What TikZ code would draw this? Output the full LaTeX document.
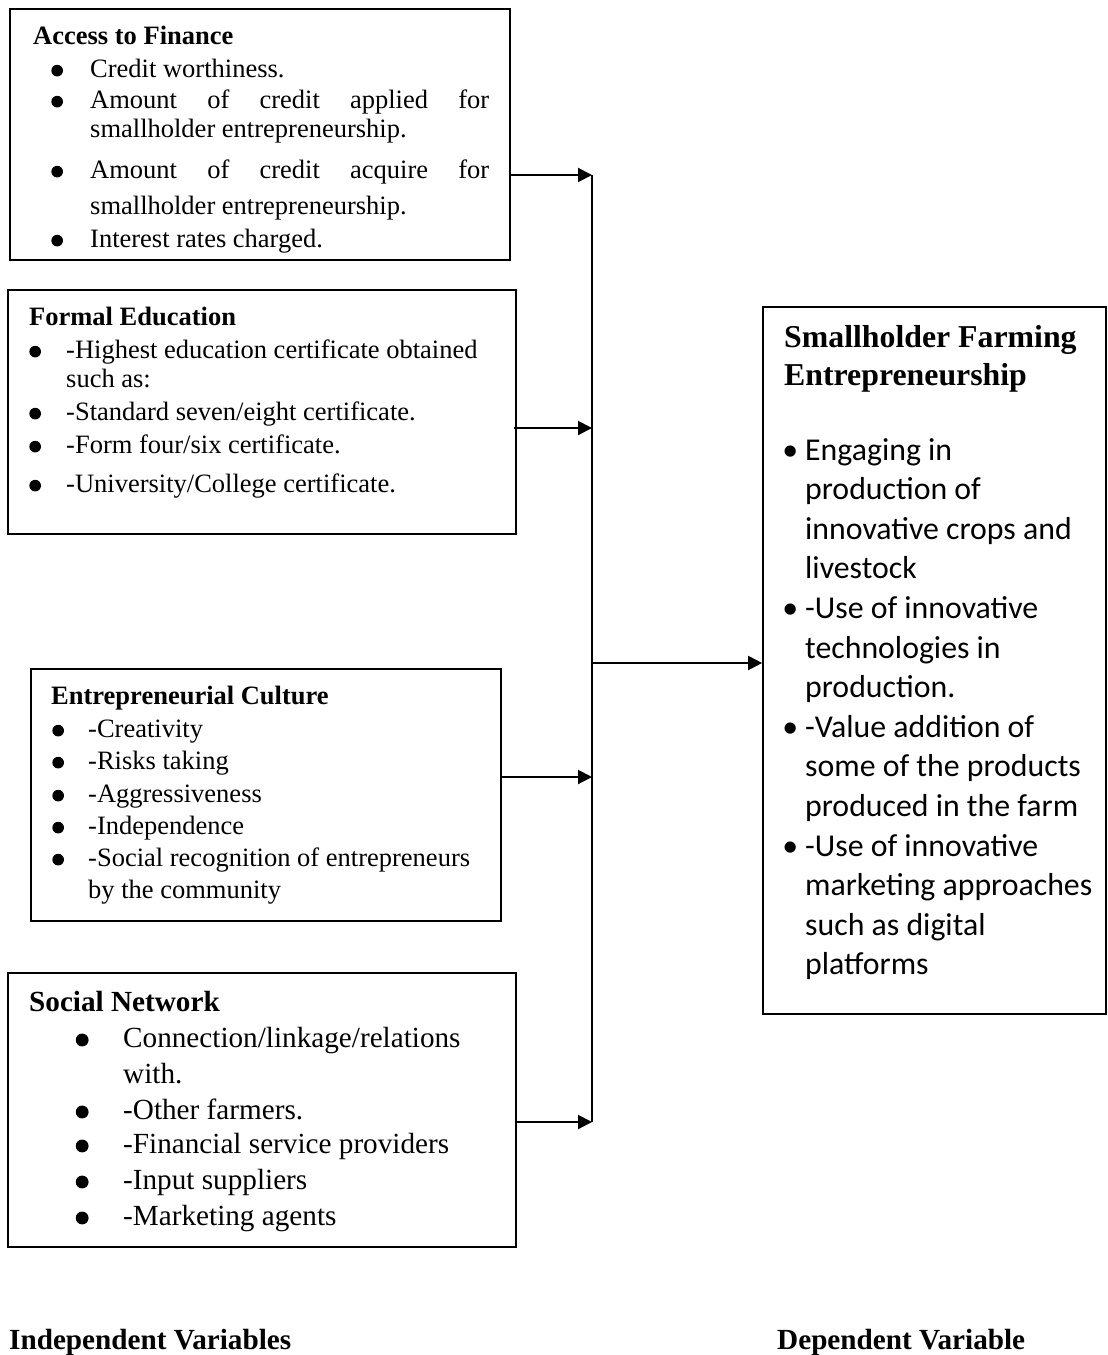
\documentclass[tikz,border=0pt]{standalone}
\usepackage{fontspec}
\setmainfont{Liberation Serif}
\newfontfamily\calibfont{Carlito}
\usepackage{tikz}
\usetikzlibrary{arrows.meta,positioning}
\newcommand{\bul}[1]{\llap{\tikz[baseline=-0.24em]\fill (0,0) circle (0.22em);\hspace{#1}}}
\newcommand{\cbul}[1]{\llap{\textbullet\hspace{#1}}}

\begin{document}
\begin{tikzpicture}[x=1pt, y=-1pt]
		\tikzstyle{Box}	= [draw, line width=1.7pt, inner sep=0pt]
		\tikzstyle{Txt}	= [anchor=base west, inner sep=0pt, font=\fontsize{26.5}{32}\selectfont]
		\tikzstyle{Head}	= [Txt, font=\fontsize{26.5}{32}\selectfont\bfseries]
		\tikzstyle{TxtL}	= [Txt, font=\fontsize{29.2}{35}\selectfont]
		\tikzstyle{HeadL}	= [Txt, font=\fontsize{29.2}{35}\selectfont\bfseries]
		\tikzstyle{Tit}	= [Txt, font=\fontsize{31.8}{38}\selectfont\bfseries]
		\tikzstyle{Cal}	= [Txt, font=\fontsize{31.8}{39}\calibfont]
		\tikzstyle{Line}	= [line width=1.4pt]
		\tikzstyle{Arr}	= [line width=2pt, -{Triangle[length=14pt, width=14pt]}]

		\useasboundingbox (0, 0) rectangle (1108, 1355);

		\node (fin) at (260, 134.5) [Box, minimum width=500, minimum height=251]{};
		\node (edu) at (262, 412) [Box, minimum width=508, minimum height=244]{};
		\node (cul) at (266, 795) [Box, minimum width=470, minimum height=252]{};
		\node (net) at (262, 1110) [Box, minimum width=508, minimum height=274]{};
		\node (she) at (934.5, 660.5) [Box, minimum width=343, minimum height=707]{};

		\node (fin0) at (33, 44) [Head]{Access to Finance};
		\node (fin1) at (90, 77) [Txt]{\bul{27.2pt}Credit worthiness.};
		\node (fin2) at (90, 108) [Txt]{\bul{27.2pt}\makebox[399pt][s]{Amount of credit applied for}};
		\node (fin3) at (90, 137) [Txt]{smallholder entrepreneurship.};
		\node (fin4) at (90, 178) [Txt]{\bul{27.2pt}\makebox[399pt][s]{Amount of credit acquire for}};
		\node (fin5) at (90, 214) [Txt]{smallholder entrepreneurship.};
		\node (fin6) at (90, 247) [Txt]{\bul{27.2pt}Interest rates charged.};

		\node (edu0) at (29, 325) [Head]{Formal Education};
		\node (edu1) at (66, 358) [Txt]{\bul{25.2pt}-Highest education certificate obtained};
		\node (edu2) at (66, 387) [Txt]{such as:};
		\node (edu3) at (66, 420) [Txt]{\bul{25.2pt}-Standard seven/eight certificate.};
		\node (edu4) at (66, 453) [Txt]{\bul{25.2pt}-Form four/six certificate.};
		\node (edu5) at (66, 492) [Txt]{\bul{25.2pt}-University/College certificate.};

		\node (cul0) at (51, 704) [Head]{Entrepreneurial Culture};
		\node (cul1) at (88, 737) [Txt]{\bul{24.2pt}-Creativity};
		\node (cul2) at (88, 769) [Txt]{\bul{24.2pt}-Risks taking};
		\node (cul3) at (88, 802) [Txt]{\bul{24.2pt}-Aggressiveness};
		\node (cul4) at (88, 834) [Txt]{\bul{24.2pt}-Independence};
		\node (cul5) at (88, 866) [Txt]{\bul{24.2pt}-Social recognition of entrepreneurs};
		\node (cul6) at (88, 898) [Txt]{by the community};

		\node (net0) at (29, 1011) [HeadL]{Social Network};
		\node (net1) at (123, 1047) [TxtL]{\bul{34.6pt}Connection/linkage/relations};
		\node (net2) at (123, 1083) [TxtL]{with.};
		\node (net3) at (123, 1119) [TxtL]{\bul{34.6pt}-Other farmers.};
		\node (net4) at (123, 1153) [TxtL]{\bul{34.6pt}-Financial service providers};
		\node (net5) at (123, 1189) [TxtL]{\bul{34.6pt}-Input suppliers};
		\node (net6) at (123, 1225) [TxtL]{\bul{34.6pt}-Marketing agents};

		\node (she0) at (784, 347) [Tit]{Smallholder Farming};
		\node (she1) at (784, 385) [Tit]{Entrepreneurship};
		\node (she2) at (805, 460) [Cal]{\cbul{7pt}Engaging in};
		\node (she3) at (805, 499.6) [Cal]{production of};
		\node (she4) at (805, 539.2) [Cal]{innovative crops and};
		\node (she5) at (805, 578.8) [Cal]{livestock};
		\node (she6) at (805, 618.4) [Cal]{\cbul{7pt}-Use of innovative};
		\node (she7) at (805, 658) [Cal]{technologies in};
		\node (she8) at (805, 697.6) [Cal]{production.};
		\node (she9) at (805, 737.2) [Cal]{\cbul{7pt}-Value addition of};
		\node (she10) at (805, 776.8) [Cal]{some of the products};
		\node (she11) at (805, 816.4) [Cal]{produced in the farm};
		\node (she12) at (805, 856) [Cal]{\cbul{7pt}-Use of innovative};
		\node (she13) at (805, 895.6) [Cal]{marketing approaches};
		\node (she14) at (805, 935.2) [Cal]{such as digital};
		\node (she15) at (805, 974.8) [Cal]{platforms};

		\node (lab1) at (9, 1349) [HeadL]{Independent Variables};
		\node (lab2) at (777, 1349) [HeadL]{Dependent Variable};

		\coordinate (t1) at (592, 175);
		\coordinate (t2) at (592, 428);
		\coordinate (t3) at (592, 777);
		\coordinate (t4) at (592, 1122);
		\coordinate (tm) at (592, 663);

		\draw [Line] (t1) to (t4);
		\draw [Arr] (fin.east |- t1) to (t1);
		\draw [Arr] ([xshift=-3pt]edu.east |- t2) to (t2);
		\draw [Arr] (cul.east |- t3) to (t3);
		\draw [Arr] (net.east |- t4) to (t4);
		\draw [Arr] (tm) to (she.west |- tm);
	\end{tikzpicture}
\end{document}
